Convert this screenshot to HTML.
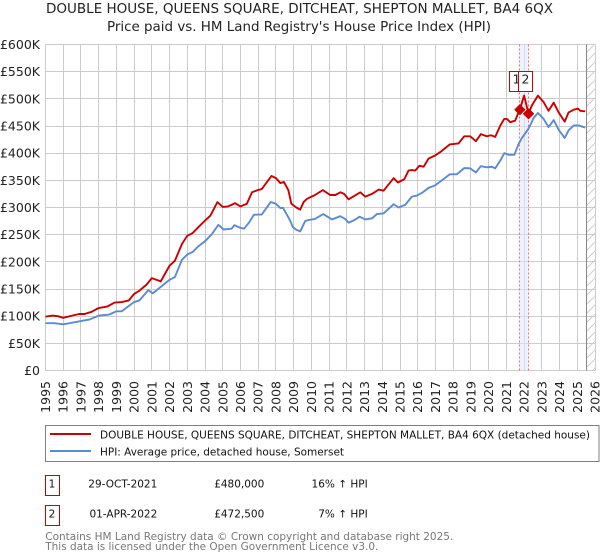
<!DOCTYPE html>
<html lang="en">
<head>
<meta charset="utf-8">
<title>Price paid vs. HPI</title>
<style>
html,body{margin:0;padding:0;background:#fff;width:600px;height:560px;overflow:hidden}
svg{display:block;font-family:"DejaVu Sans","Liberation Sans",sans-serif}
</style>
</head>
<body>
<svg id="chart" width="600" height="560" viewBox="0 0 600 560" xmlns="http://www.w3.org/2000/svg">
  <defs>
    <pattern id="hatch" width="9" height="9" patternUnits="userSpaceOnUse">
      <path d="M0 9L9 0" stroke="#cccccc" stroke-width="1" fill="none"/>
    </pattern>
  </defs>
  <rect x="0" y="0" width="600" height="560" fill="#ffffff"/>
  <text x="299.5" y="13" text-anchor="middle" font-size="13.4" textLength="507" lengthAdjust="spacingAndGlyphs" fill="#222">DOUBLE HOUSE, QUEENS SQUARE, DITCHEAT, SHEPTON MALLET, BA4 6QX</text>
  <text x="299" y="31" text-anchor="middle" font-size="13.4" textLength="384" lengthAdjust="spacingAndGlyphs" fill="#222">Price paid vs. HM Land Registry's House Price Index (HPI)</text>
  <g id="grid"></g>
  <g id="xlabels"></g>
  <g id="ylabels"></g>
  <g id="overlays"></g>
  <g id="series"></g>
  <g id="sales"></g>

  <g>
    <rect x="45.5" y="425.5" width="553.5" height="36" fill="#fff" stroke="#808080" stroke-width="1"/>
    <line x1="50" y1="434" x2="91" y2="434" stroke="#cc0000" stroke-width="2"/>
    <text x="100" y="438.5" font-size="10.5" textLength="490" lengthAdjust="spacingAndGlyphs" fill="#111">DOUBLE HOUSE, QUEENS SQUARE, DITCHEAT, SHEPTON MALLET, BA4 6QX (detached house)</text>
    <line x1="50" y1="451" x2="91" y2="451" stroke="#5b8bd0" stroke-width="2"/>
    <text x="100" y="455.5" font-size="10.5" textLength="244" lengthAdjust="spacingAndGlyphs" fill="#111">HPI: Average price, detached house, Somerset</text>
  </g>

  <g font-size="10.5" fill="#111">
    <rect x="45.5" y="475.5" width="14" height="20" fill="#fff" stroke="#cc0000" stroke-width="1"/>
    <text x="52" y="487.5" text-anchor="middle">1</text>
    <text x="157.3" y="487.5" text-anchor="end">29-OCT-2021</text>
    <text x="264.3" y="487.5" text-anchor="end">£480,000</text>
    <text x="367.7" y="487.5" text-anchor="end">16% ↑ HPI</text>
    <rect x="45.5" y="505.5" width="14" height="20" fill="#fff" stroke="#cc0000" stroke-width="1"/>
    <text x="52" y="517.5" text-anchor="middle">2</text>
    <text x="157.3" y="517.5" text-anchor="end">01-APR-2022</text>
    <text x="264.3" y="517.5" text-anchor="end">£472,500</text>
    <text x="367.7" y="517.5" text-anchor="end">7% ↑ HPI</text>
  </g>

  <text x="45.3" y="540" font-size="10.5" textLength="408" lengthAdjust="spacingAndGlyphs" fill="#777">Contains HM Land Registry data © Crown copyright and database right 2025.</text>
  <text x="45.3" y="550" font-size="10.5" textLength="333" lengthAdjust="spacingAndGlyphs" fill="#777">This data is licensed under the Open Government Licence v3.0.</text>
</svg>
<script>
const yearTicks = [1995,1996,1997,1998,1999,2000,2001,2002,2003,2004,2005,2006,2007,2008,2009,2010,2011,2012,2013,2014,2015,2016,2017,2018,2019,2020,2021,2022,2023,2024,2025,2026];
const valueTicks = [0,50,100,150,200,250,300,350,400,450,500,550,600];
const valueTickLabels = ['£0','£50K','£100K','£150K','£200K','£250K','£300K','£350K','£400K','£450K','£500K','£550K','£600K'];

const priceDates = [1995,1995.4,1995.7,1996,1996.5,1996.9,1997.2,1997.6,1998,1998.5,1998.9,1999.3,1999.7,2000,2000.3,2000.7,2001,2001.5,2002,2002.3,2002.7,2003,2003.3,2003.6,2004,2004.3,2004.7,2005,2005.3,2005.7,2006,2006.36,2006.65,2006.97,2007.2,2007.75,2008,2008.25,2008.45,2008.7,2008.87,2009.15,2009.37,2009.56,2009.75,2010.2,2010.65,2011.06,2011.35,2011.63,2011.85,2012.1,2012.76,2013.04,2013.42,2013.8,2014.07,2014.64,2014.88,2015.24,2015.48,2015.67,2015.86,2016.1,2016.33,2016.61,2016.99,2017.27,2017.8,2018.3,2018.62,2018.96,2019.28,2019.56,2019.9,2020.13,2020.37,2020.66,2020.88,2021.03,2021.22,2021.5,2021.62,2021.76,2022.0,2022.25,2022.44,2022.78,2023.1,2023.38,2023.67,2023.95,2024.29,2024.51,2024.8,2025.04,2025.17,2025.45];
const priceValues = [99,101,100,97,101,104,104,108,115,118,125,126,129,141,147,158,170,164,193,202,233,248,253,263,276,285,310,301,302,308,302,307,328,332,334,358,354,345,347,332,307,300,296,310,316,323,332,323,323,328,325,315,328,320,325,333,331,354,346,352,368,369,368,377,375,390,396,402,416,418,431,431,422,435,431,433,430,451,463,463,457,460,470,480,506,472.5,488,506,494,478,493,475,458,475,480,482,478,477];

const hpiDates = [1995,1995.5,1996,1996.5,1997,1997.5,1998,1998.6,1999,1999.3,2000,2000.3,2000.8,2001.05,2002,2002.3,2002.7,2003,2003.3,2003.6,2004,2004.4,2004.75,2005.05,2005.5,2005.65,2006,2006.2,2006.5,2006.75,2007,2007.2,2007.7,2008,2008.25,2008.4,2008.8,2008.95,2009.15,2009.37,2009.65,2009.84,2010.2,2010.67,2011.16,2011.63,2011.9,2012.1,2012.38,2012.72,2013.04,2013.42,2013.7,2014.07,2014.64,2014.92,2015.3,2015.67,2015.95,2016.24,2016.61,2016.99,2017.36,2017.8,2018.2,2018.62,2018.96,2019.28,2019.56,2019.9,2020.19,2020.37,2020.66,2020.88,2021.13,2021.45,2021.69,2021.88,2022.25,2022.54,2022.78,2023.1,2023.38,2023.67,2023.95,2024.29,2024.51,2024.8,2025.08,2025.45];
const hpiValues = [87,87,85,88,91,94,101,103,109,109,126,129,148,142,167,172,204,213.5,218,228,238,251.5,268,259.5,261,267.5,262.6,261,273,286.5,287,287,310,307,299,299.5,276,264,259,256,275,277,279,288,278,284,279,272,276,283,278,280,288,289,306,300,305,320,322,327,336,341,350,361,361,372.5,372,364.5,376,374,375,372,386.5,400,397,397,417,428,445,465,474,463,448,461,443,428,442,451,451,447];

const saleDates = [2021.76,2022.25];
const saleValues = [480,472.5];
const saleLabels = ['1','2'];
const dataEndDate = 2025.5;

const NS = 'http://www.w3.org/2000/svg';
const plotLeft = 45.5, plotRight = 595, plotTop = 44.5, plotBottom = 370.5;
const xMin = yearTicks[0], xMax = yearTicks[yearTicks.length - 1];
const yMin = valueTicks[0], yMax = valueTicks[valueTicks.length - 1];
const xScale = d => plotLeft + (d - xMin) / (xMax - xMin) * (plotRight - plotLeft);
const yScale = v => plotBottom - (v - yMin) / (yMax - yMin) * (plotBottom - plotTop);
const snap = p => Math.round(p - 0.5) + 0.5;

function make(tag, attrs, parent, text) {
  const el = document.createElementNS(NS, tag);
  for (const k in attrs) el.setAttribute(k, attrs[k]);
  if (text !== undefined) el.textContent = text;
  parent.appendChild(el);
  return el;
}

const grid = document.getElementById('grid');
const xlabels = document.getElementById('xlabels');
const ylabels = document.getElementById('ylabels');
const overlays = document.getElementById('overlays');
const seriesGroup = document.getElementById('series');
const salesGroup = document.getElementById('sales');

yearTicks.forEach(year => {
  const x = snap(xScale(year));
  const gl = make('line', {x1: x, x2: x, y1: plotTop, y2: plotBottom, stroke: '#cccccc', 'stroke-width': 1}, grid);
  
  
  const lx = xScale(year);
  const t = make('text', {transform: 'translate(' + (lx + 4.5) + ',381) rotate(-90)', 'text-anchor': 'end', 'font-size': 12.5, fill: '#222'}, xlabels, String(year));
  
  
});

valueTicks.forEach((value, i) => {
  const y = snap(yScale(value));
  const gl = make('line', {x1: plotLeft, x2: plotRight, y1: y, y2: y, stroke: '#cccccc', 'stroke-width': 1}, grid);
  
  
  const t = make('text', {x: 40, y: yScale(value) + 4.5, 'text-anchor': 'end', 'font-size': 12.5, fill: '#222'}, ylabels, valueTickLabels[i]);
  
  
});

const endX = xScale(dataEndDate);
const hatchRect = make('rect', {x: endX, y: plotTop, width: plotRight - endX, height: plotBottom - plotTop, fill: 'url(#hatch)'}, overlays);


const endLine = make('line', {x1: snap(endX), x2: snap(endX), y1: plotTop, y2: plotBottom, stroke: '#888888', 'stroke-width': 1}, overlays);



const band = make('rect', {x: xScale(saleDates[0]), y: plotTop, width: xScale(saleDates[1]) - xScale(saleDates[0]), height: plotBottom - plotTop, fill: '#dfe8fa', 'fill-opacity': 0.55}, overlays);



saleDates.forEach(date => {
  const x = snap(xScale(date));
  const l = make('line', {x1: x, x2: x, y1: plotTop, y2: plotBottom, stroke: '#f07070', 'stroke-width': 1, 'stroke-dasharray': '2 2'}, overlays);
  
  
});

function linePath(dates, values) {
  return dates.map((d, i) => (i ? 'L' : 'M') + xScale(d).toFixed(2) + ' ' + yScale(values[i]).toFixed(2)).join('');
}
const hpiPath = make('path', {d: linePath(hpiDates, hpiValues), fill: 'none', stroke: '#5b8bd0', 'stroke-width': 1.9, 'stroke-linejoin': 'round'}, seriesGroup);


const pricePath = make('path', {d: linePath(priceDates, priceValues), fill: 'none', stroke: '#cc0000', 'stroke-width': 1.9, 'stroke-linejoin': 'round'}, seriesGroup);



saleDates.forEach((date, i) => {
  const x = xScale(date), y = yScale(saleValues[i]);
  const m = make('path', {d: 'M' + x + ' ' + (y - 5) + 'L' + (x + 5) + ' ' + y + 'L' + x + ' ' + (y + 5) + 'L' + (x - 5) + ' ' + y + 'Z', fill: '#cc0000', stroke: '#cc0000', 'stroke-width': 1, 'stroke-linejoin': 'round'}, salesGroup);
  
  
  const bx = snap(x - 10);
  const b = make('rect', {x: bx, y: 71.5, width: 14, height: 20, fill: '#ffffff', stroke: '#cc0000', 'stroke-width': 1}, salesGroup);
  
  
  const t = make('text', {x: bx + 7, y: 83.5, 'text-anchor': 'middle', 'font-size': 12.5, fill: '#222'}, salesGroup, saleLabels[i]);
  
  
});
</script>
</body>
</html>
